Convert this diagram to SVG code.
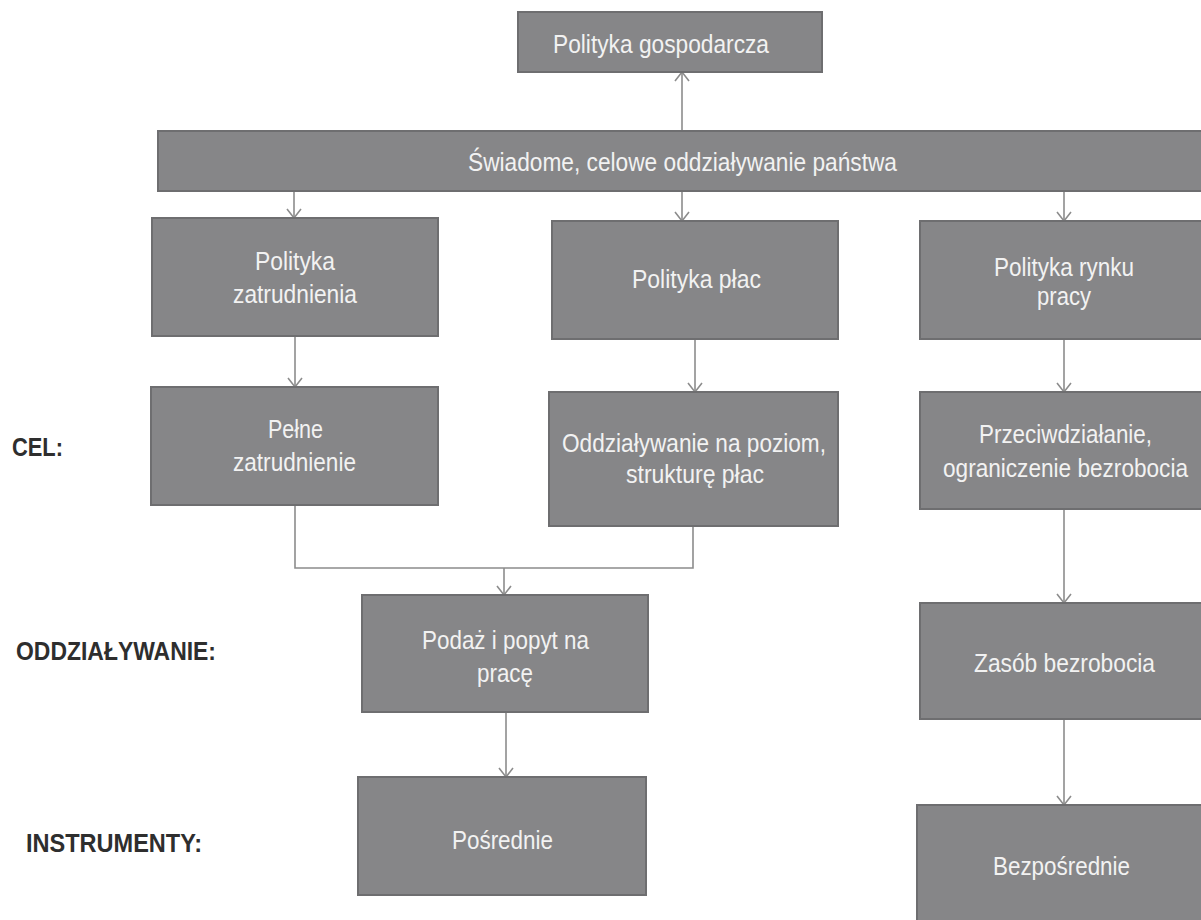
<svg xmlns="http://www.w3.org/2000/svg" width="1201" height="920" viewBox="0 0 1201 920">
  <defs>
    <style>
      .box { fill: #868688; stroke: #6e6e70; stroke-width: 2; }
      .t { font-family: "Liberation Sans", Arial, sans-serif; font-size: 25px; fill: #f2f2f2; }
      .lbl { font-family: "Liberation Sans", Arial, sans-serif; font-size: 25px; font-weight: bold; fill: #2e2e2e; }
      .ln { fill: none; stroke: #8c8c8c; stroke-width: 1.6; }
    </style>
    <marker id="arr" markerUnits="userSpaceOnUse" markerWidth="20" markerHeight="20" refX="10" refY="8" orient="auto">
      <path d="M1,1 L10,8 L1,15" fill="none" stroke="#8c8c8c" stroke-width="1.6"/>
    </marker>
  </defs>
  <rect width="1201" height="920" fill="#ffffff"/>

  <!-- connectors -->
  <g id="connectors">
    <line class="ln" x1="682" y1="131" x2="682" y2="72" marker-end="url(#arr)"/>
    <line class="ln" x1="294" y1="191" x2="294" y2="218" marker-end="url(#arr)"/>
    <line class="ln" x1="682" y1="191" x2="682" y2="221" marker-end="url(#arr)"/>
    <line class="ln" x1="1064" y1="191" x2="1064" y2="221" marker-end="url(#arr)"/>
    <line class="ln" x1="295" y1="336" x2="295" y2="387" marker-end="url(#arr)"/>
    <line class="ln" x1="695" y1="339" x2="695" y2="392" marker-end="url(#arr)"/>
    <line class="ln" x1="1064" y1="339" x2="1064" y2="392" marker-end="url(#arr)"/>
    <polyline class="ln" points="295,505 295,568 693,568 693,526"/>
    <line class="ln" x1="504" y1="568" x2="504" y2="595" marker-end="url(#arr)"/>
    <line class="ln" x1="1064" y1="509" x2="1064" y2="603" marker-end="url(#arr)"/>
    <line class="ln" x1="506" y1="712" x2="506" y2="777" marker-end="url(#arr)"/>
    <line class="ln" x1="1064" y1="719" x2="1064" y2="805" marker-end="url(#arr)"/>
  </g>

  <!-- row labels -->
  <g id="labels">
    <text class="lbl" x="12" y="456" textLength="51" lengthAdjust="spacingAndGlyphs">CEL:</text>
    <text class="lbl" x="16" y="660" textLength="200" lengthAdjust="spacingAndGlyphs">ODDZIAŁYWANIE:</text>
    <text class="lbl" x="26" y="852" textLength="176" lengthAdjust="spacingAndGlyphs">INSTRUMENTY:</text>
  </g>

  <g id="polityka-gospodarcza">
    <rect class="box" x="518" y="12" width="304" height="60"/>
    <text class="t" x="553" y="53" textLength="216" lengthAdjust="spacingAndGlyphs">Polityka gospodarcza</text>
  </g>

  <g id="oddzialywanie-panstwa">
    <rect class="box" x="158" y="131" width="1045" height="60"/>
    <text class="t" x="468" y="171" textLength="429" lengthAdjust="spacingAndGlyphs">Świadome, celowe oddziaływanie państwa</text>
  </g>

  <g id="polityka-zatrudnienia">
    <rect class="box" x="152" y="218" width="286" height="118"/>
    <text class="t" x="255" y="270" textLength="80" lengthAdjust="spacingAndGlyphs">Polityka</text>
    <text class="t" x="233" y="303" textLength="124" lengthAdjust="spacingAndGlyphs">zatrudnienia</text>
  </g>

  <g id="polityka-plac">
    <rect class="box" x="552" y="221" width="286" height="118"/>
    <text class="t" x="632" y="288" textLength="129" lengthAdjust="spacingAndGlyphs">Polityka płac</text>
  </g>

  <g id="polityka-rynku-pracy">
    <rect class="box" x="920" y="221" width="283" height="118"/>
    <text class="t" x="994" y="276" textLength="140" lengthAdjust="spacingAndGlyphs">Polityka rynku</text>
    <text class="t" x="1037" y="305" textLength="54" lengthAdjust="spacingAndGlyphs">pracy</text>
  </g>

  <g id="pelne-zatrudnienie">
    <rect class="box" x="151" y="387" width="287" height="118"/>
    <text class="t" x="268" y="438" textLength="55" lengthAdjust="spacingAndGlyphs">Pełne</text>
    <text class="t" x="233" y="471" textLength="123" lengthAdjust="spacingAndGlyphs">zatrudnienie</text>
  </g>

  <g id="struktura-plac">
    <rect class="box" x="549" y="392" width="289" height="134"/>
    <text class="t" x="562" y="452" textLength="264" lengthAdjust="spacingAndGlyphs">Oddziaływanie na poziom,</text>
    <text class="t" x="626" y="483" textLength="138" lengthAdjust="spacingAndGlyphs">strukturę płac</text>
  </g>

  <g id="ograniczenie-bezrobocia">
    <rect class="box" x="920" y="392" width="283" height="117"/>
    <text class="t" x="979" y="443" textLength="173" lengthAdjust="spacingAndGlyphs">Przeciwdziałanie,</text>
    <text class="t" x="943" y="477" textLength="245" lengthAdjust="spacingAndGlyphs">ograniczenie bezrobocia</text>
  </g>

  <g id="podaz-popyt">
    <rect class="box" x="362" y="595" width="286" height="117"/>
    <text class="t" x="422" y="649" textLength="167" lengthAdjust="spacingAndGlyphs">Podaż i popyt na</text>
    <text class="t" x="477" y="682" textLength="56" lengthAdjust="spacingAndGlyphs">pracę</text>
  </g>

  <g id="zasob-bezrobocia">
    <rect class="box" x="920" y="603" width="283" height="116"/>
    <text class="t" x="974" y="672" textLength="181" lengthAdjust="spacingAndGlyphs">Zasób bezrobocia</text>
  </g>

  <g id="posrednie">
    <rect class="box" x="358" y="777" width="288" height="118"/>
    <text class="t" x="452" y="849" textLength="101" lengthAdjust="spacingAndGlyphs">Pośrednie</text>
  </g>

  <g id="bezposrednie">
    <rect class="box" x="917" y="805" width="286" height="118"/>
    <text class="t" x="993" y="875" textLength="137" lengthAdjust="spacingAndGlyphs">Bezpośrednie</text>
  </g>
</svg>
